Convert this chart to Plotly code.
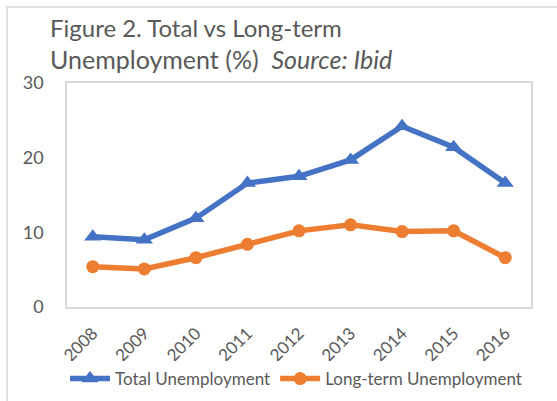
import plotly.graph_objects as go

years = ["2008", "2009", "2010", "2011", "2012", "2013", "2014", "2015", "2016"]
total_unemployment = [9.4, 9.0, 11.9, 16.6, 17.5, 19.7, 24.2, 21.4, 16.6]
longterm_unemployment = [5.4, 5.1, 6.6, 8.4, 10.2, 11.0, 10.1, 10.2, 6.6]

TEXT = "#595959"
BORDER = "#D9D9D9"
FONT = "Lato"

fig = go.Figure()

fig.add_trace(go.Scatter(
    x=years, y=total_unemployment,
    mode="lines+markers",
    name="Total Unemployment",
    line=dict(color="#4472C4", width=5.5),
    marker=dict(symbol="triangle-up", size=15, color="#4472C4"),
))

fig.add_trace(go.Scatter(
    x=years, y=longterm_unemployment,
    mode="lines+markers",
    name="Long-term Unemployment",
    line=dict(color="#ED7D31", width=5.5),
    marker=dict(symbol="circle", size=13, color="#ED7D31"),
))

# outer chart border (top and left edges visible in the crop)
fig.add_shape(
    type="rect", xref="paper", yref="paper",
    x0=(7 - 67) / 464, x1=1.3, y0=-0.6, y1=(307 - 7) / 224,
    line=dict(color=BORDER, width=1.5), layer="below",
)

# title as two annotation lines so the spacing can be set exactly
fig.add_annotation(
    text="Figure 2. Total vs Long-term",
    xref="paper", yref="paper",
    x=(48 - 67) / 464, y=(307 - 27) / 224,
    xanchor="left", yanchor="middle", showarrow=False,
    font=dict(family=FONT, color=TEXT, size=24),
)
fig.add_annotation(
    text="Unemployment (%)  <i>Source: Ibid</i>",
    xref="paper", yref="paper",
    x=(48 - 67) / 464, y=(307 - 59) / 224,
    xanchor="left", yanchor="middle", showarrow=False,
    font=dict(family=FONT, color=TEXT, size=25),
)

fig.update_layout(
    width=557, height=401,
    paper_bgcolor="white", plot_bgcolor="white",
    margin=dict(l=67, r=26, t=83, b=94, autoexpand=False),
    font=dict(family=FONT, color=TEXT, size=17),
    xaxis=dict(
        type="category", range=[-0.5, 8.5],
        showgrid=False, showline=True, mirror=True,
        linecolor=BORDER, linewidth=1.5,
        tickangle=-45, ticks="", ticklabelstandoff=8,
        tickfont=dict(size=17, color=TEXT),
        automargin=False, fixedrange=True,
    ),
    yaxis=dict(
        range=[0, 30], dtick=10,
        showgrid=False, zeroline=False, showline=True, mirror=True,
        linecolor=BORDER, linewidth=1.5,
        ticks="", ticklabelstandoff=18,
        tickfont=dict(size=18, color=TEXT),
        automargin=False, fixedrange=True,
    ),
    legend=dict(
        orientation="h", x=296 / 557, xanchor="center", xref="container",
        y=1 - 379 / 401, yanchor="middle", yref="container",
        font=dict(size=17, color=TEXT),
        itemwidth=40, tracegroupgap=0,
    ),
    showlegend=True,
)

# page body has a default 8px margin; remove it so the figure sits at 0,0
fig.write_html(
    "out.html",
    config={"displayModeBar": False},
    post_script="document.body.style.margin='0';",
)
